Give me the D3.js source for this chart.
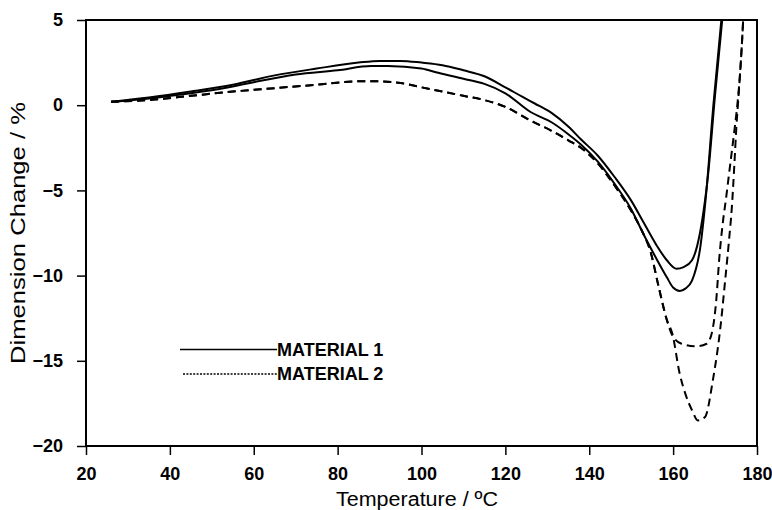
<!DOCTYPE html>
<html>
<head>
<meta charset="utf-8">
<script src="https://cdn.jsdelivr.net/npm/d3@7"></script>
<style>
  body { margin: 0; background: #fff; }
  svg { display: block; font-family: "Liberation Sans", Arial, sans-serif; }
</style>
</head>
<body>
<svg id="chart" width="772" height="510"></svg>
<script>
// Material 1, upper solid run
var m1aTemp = [26, 35, 45, 55, 65, 75, 85, 90, 95, 100, 105, 110, 115, 120, 124, 127, 131, 135, 138, 142, 146, 150, 153, 156, 158.5, 160.8, 162.5, 164.5, 166.4, 167.6, 168.2, 170, 171.7];
var m1aDim = [0.2, 0.45, 0.8, 1.2, 1.75, 2.15, 2.5, 2.6, 2.6, 2.5, 2.35, 2.05, 1.7, 1.05, 0.5, 0.1, -0.45, -1.25, -2.0, -2.95, -4.2, -5.6, -6.9, -8.2, -9.1, -9.6, -9.5, -9.1, -7.5, -5.6, -4.4, 0.6, 5];

// Material 1, lower solid run
var m1bTemp = [26, 35, 45, 55, 60, 70, 80, 88, 92, 100, 104, 110, 115, 120, 126, 131, 135, 138, 142, 146, 150, 153, 156, 158.5, 160, 161.6, 163, 164.5, 166.5, 167.8, 169.6, 171.5];
var m1bDim = [0.2, 0.4, 0.7, 1.1, 1.35, 1.8, 2.05, 2.3, 2.3, 2.15, 1.9, 1.55, 1.25, 0.7, -0.4, -1.0, -1.7, -2.3, -3.3, -4.6, -6.1, -7.6, -9.0, -10.1, -10.7, -10.9, -10.75, -10.3, -8.3, -5.4, 0, 5];

// Material 2, shallow dashed run
var m2aTemp = [26, 35, 45, 55, 65, 75, 85, 90, 95, 100, 105, 110, 115, 120, 126, 131, 135, 138, 142, 146, 150, 153, 154.5, 156.5, 158.5, 159.8, 162, 165.6, 168, 169.2, 170.3, 171, 171.8, 172.6, 173.6, 174.6, 175.3, 176, 176.4, 176.7];
var m2aDim = [0.2, 0.3, 0.55, 0.8, 1.0, 1.2, 1.4, 1.4, 1.3, 1.05, 0.8, 0.55, 0.3, -0.1, -0.9, -1.5, -2.06, -2.5, -3.4, -4.7, -6.2, -7.6, -8.5, -10.6, -12.6, -13.5, -14.0, -14.15, -14.0, -13.4, -11.4, -9, -7, -5.5, -3.5, -1.5, 0, 2, 3.6, 5];

// Material 2, deep dashed run
var m2bTemp = [26, 35, 45, 55, 65, 75, 85, 90, 95, 100, 105, 110, 115, 120, 126, 131, 135, 138, 142, 146, 150, 153, 154.5, 156.5, 158.5, 159.8, 161.6, 163, 164.5, 165.9, 167.6, 169.5, 171.2, 172.4, 173.3, 174, 174.6, 175.1, 175.5, 176, 176.4, 176.7];
var m2bDim = [0.2, 0.3, 0.55, 0.8, 1.0, 1.2, 1.4, 1.4, 1.3, 1.05, 0.8, 0.55, 0.3, -0.1, -0.9, -1.5, -2.06, -2.5, -3.4, -4.7, -6.2, -7.6, -8.5, -10.6, -12.6, -13.4, -15.8, -17.0, -17.9, -18.5, -18.3, -16.1, -13.2, -10.3, -8, -6, -3.5, -1.2, 0.2, 2, 3.6, 5];

var xTicks = [20, 40, 60, 80, 100, 120, 140, 160, 180];
var yTicks = [5, 0, -5, -10, -15, -20];
var legendNames = ['MATERIAL 1', 'MATERIAL 2'];

var svg = d3.select('#chart');
// plot box in pixels (note: "top" is reserved on window, so use plotTop)
var plotLeft = 86, plotRight = 757, plotTop = 20, plotBottom = 446;

var x = d3.scaleLinear().domain([20, 180]).range([plotLeft, plotRight]);
var y = d3.scaleLinear().domain([-20, 5]).range([plotBottom, plotTop]);

svg.append('defs').append('clipPath').attr('id', 'plotClip')
  .append('rect')
  .attr('x', plotLeft).attr('y', plotTop)
  .attr('width', plotRight - plotLeft).attr('height', plotBottom - plotTop);

function toPoints(temps, dims) {
  return temps.map(function (t, i) {
    return [t, dims[i]];
  });
}

var series = [
  { pts: toPoints(m1aTemp, m1aDim), dash: null },
  { pts: toPoints(m1bTemp, m1bDim), dash: null },
  { pts: toPoints(m2aTemp, m2aDim), dash: '8,5' },
  { pts: toPoints(m2bTemp, m2bDim), dash: '8,5' }
];

var line = d3.line()
  .x(function (d) { return x(d[0]); })
  .y(function (d) { return y(d[1]); })
  .curve(d3.curveMonotoneX);

// Axes: ticks outside, labels bold
var xAxis = svg.append('g')
  .attr('transform', 'translate(0,' + plotBottom + ')')
  .call(d3.axisBottom(x).tickValues(xTicks).tickSize(9).tickPadding(12));
var yAxis = svg.append('g')
  .attr('transform', 'translate(' + plotLeft + ',0)')
  .call(d3.axisLeft(y).tickValues(yTicks).tickSize(9).tickPadding(14));

[xAxis, yAxis].forEach(function (ax) {
  ax.select('.domain').remove();
  ax.selectAll('line').attr('stroke', '#000').attr('stroke-width', 1.5);
  ax.selectAll('text')
    .attr('fill', '#000')
    .style('font-size', '18px')
    .style('font-weight', 'bold');
});

// Frame around the plot
svg.append('rect')
  .attr('x', plotLeft).attr('y', plotTop)
  .attr('width', plotRight - plotLeft).attr('height', plotBottom - plotTop)
  .attr('fill', 'none')
  .attr('stroke', '#000')
  .attr('stroke-width', 2);

svg.append('g').attr('clip-path', 'url(#plotClip)')
  .selectAll('path')
  .data(series)
  .enter().append('path')
  .attr('d', function (d) { return line(d.pts); })
  .attr('fill', 'none')
  .attr('stroke', '#000')
  .attr('stroke-width', 2)
  .attr('stroke-dasharray', function (d) { return d.dash; });

// Axis titles
svg.append('text')
  .attr('x', 417).attr('y', 506)
  .attr('text-anchor', 'middle')
  .attr('textLength', 162)
  .attr('lengthAdjust', 'spacingAndGlyphs')
  .style('font-size', '20px')
  .text('Temperature / \u00BAC');

svg.append('text')
  .attr('transform', 'translate(25,233) rotate(-90)')
  .attr('text-anchor', 'middle')
  .attr('textLength', 262)
  .attr('lengthAdjust', 'spacingAndGlyphs')
  .style('font-size', '21px')
  .text('Dimension Change / %');

// Legend
var legend = svg.append('g');
legend.selectAll('line')
  .data(legendNames)
  .enter().append('line')
  .attr('x1', function (d, i) { return i ? 183 : 180; })
  .attr('x2', 277)
  .attr('y1', function (d, i) { return 349.5 + i * 24.5; })
  .attr('y2', function (d, i) { return 349.5 + i * 24.5; })
  .attr('stroke', '#000')
  .attr('stroke-width', function (d, i) { return i ? 1.3 : 1.6; })
  .attr('stroke-dasharray', function (d, i) { return i ? '2,1.4' : null; });
legend.selectAll('text')
  .data(legendNames)
  .enter().append('text')
  .attr('x', 277)
  .attr('y', function (d, i) { return 355.5 + i * 24.5; })
  .style('font-size', '18px')
  .style('font-weight', 'bold')
  .text(function (d) { return d; });
</script>
</body>
</html>
